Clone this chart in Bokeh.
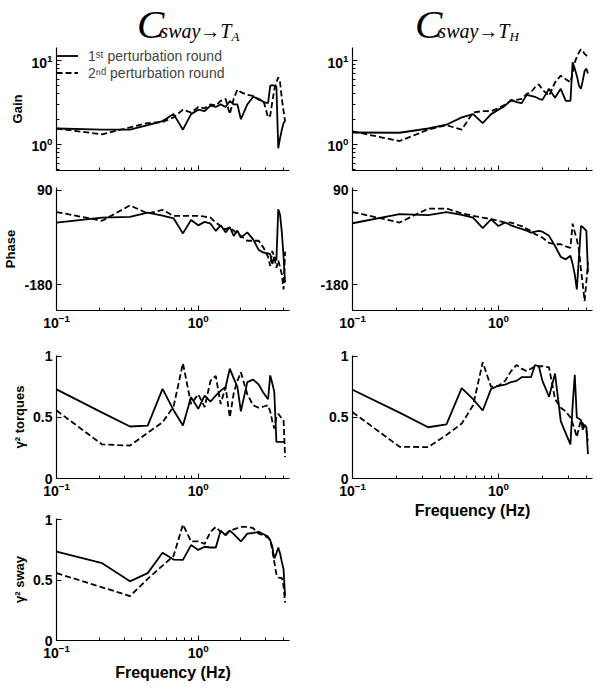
from bokeh.plotting import figure
from bokeh.models import Range1d, FixedTicker, Legend, LegendItem, Div
from bokeh.layouts import column, row
from bokeh.embed import file_html
from bokeh.resources import INLINE

# ---------------- data ----------------
freq = [0.10, 0.21, 0.33, 0.44, 0.56, 0.67, 0.78, 0.89, 1.00, 1.11, 1.22, 1.33, 1.44, 1.56, 1.67, 1.78,
        1.89, 2.00, 2.22, 2.44, 2.67, 2.89, 3.11, 3.22, 3.33, 3.44, 3.56, 3.67, 3.78, 3.89, 4.00, 4.10]

gain_ta_1 = [1.55, 1.50, 1.50, 1.70, 1.90, 2.30, 1.50, 2.30, 2.60, 2.50, 2.90, 2.80, 3.00, 2.80, 3.30, 3.00,
             3.00, 2.00, 3.00, 3.70, 3.50, 3.20, 3.10, 5.00, 5.10, 5.00, 4.90, 0.90, 1.20, 1.50, 1.80, 1.90]
gain_ta_2 = [1.55, 1.32, 1.60, 1.80, 1.85, 2.10, 2.60, 2.40, 2.80, 2.70, 3.00, 2.90, 3.30, 3.50, 2.30, 3.50,
             4.50, 4.20, 3.90, 3.80, 3.40, 3.30, 2.10, 2.20, 3.20, 4.50, 5.50, 6.30, 5.50, 3.50, 2.50, 1.90]
gain_th_1 = [1.39, 1.38, 1.55, 1.72, 2.10, 2.30, 1.80, 2.30, 2.60, 2.90, 3.40, 3.20, 3.10, 3.90, 3.80, 3.70,
             3.50, 3.40, 4.60, 3.60, 4.60, 3.30, 3.30, 9.50, 8.00, 6.60, 5.00, 4.60, 5.80, 7.50, 8.00, 7.00]
gain_th_2 = [1.43, 1.10, 1.50, 1.70, 1.50, 2.40, 2.50, 2.50, 2.70, 3.00, 3.30, 3.40, 3.50, 4.00, 4.20, 4.80,
             5.20, 4.50, 3.80, 5.50, 6.60, 6.00, 5.50, 7.00, 9.50, 11.0, 12.5, 13.6, 13.0, 12.0, 11.5, 11.0]

phase_ta_1 = [-2, 12, 14, 26, 18, 10, -33, 5, -10, 0, -5, -26, -10, -30, -15, -40,
              -25, -45, -30, -50, -80, -88, -90, -92, -120, -100, -110, 36, 20, -30, -100, -173]
phase_ta_2 = [28, 3, 47, 24, 34, 17, 17, 17, 17, 15, 12, -2, -12, -21, -16, -25,
              -35, -40, -54, -54, -54, -74, -100, -126, -83, -100, -131, -110, -130, -150, -193, -85]
phase_th_1 = [-4, 22, 19, 28, 20, 12, -18, 7, -12, -2, -10, -16, -20, -25, -31, -28,
              -26, -28, -40, -69, -100, -107, -97, -120, -150, -193, -100, -12, -15, -20, -26, -145]
phase_th_2 = [28, -2, 38, 38, 24, 17, 12, 8, 3, -2, -2, -8, -12, -20, -26, -35,
              -40, -45, -60, -64, -64, -70, -74, -5, -30, -50, -80, -136, -180, -226, -170, -116]

torque_ta_1 = [0.73, 0.54, 0.426, 0.434, 0.735, 0.56, 0.434, 0.667, 0.571, 0.68, 0.63, 0.68, 0.72, 0.75, 0.90, 0.82,
               0.75, 0.55, 0.79, 0.81, 0.77, 0.70, 0.65, 0.845, 0.78, 0.71, 0.30, 0.30, 0.30, 0.30, 0.30, 0.30]
torque_ta_2 = [0.557, 0.279, 0.27, 0.375, 0.46, 0.59, 0.945, 0.61, 0.69, 0.585, 0.80, 0.84, 0.61, 0.75, 0.50, 0.70,
               0.80, 0.87, 0.69, 0.60, 0.58, 0.59, 0.60, 0.55, 0.47, 0.41, 0.50, 0.53, 0.51, 0.49, 0.48, 0.175]
torque_th_1 = [0.727, 0.54, 0.42, 0.443, 0.74, 0.65, 0.557, 0.735, 0.76, 0.77, 0.79, 0.80, 0.83, 0.83, 0.83, 0.93,
               0.92, 0.80, 0.67, 0.86, 0.47, 0.37, 0.28, 0.60, 0.85, 0.50, 0.49, 0.48, 0.40, 0.44, 0.42, 0.20]
torque_th_2 = [0.544, 0.26, 0.257, 0.357, 0.45, 0.60, 0.953, 0.75, 0.76, 0.80, 0.88, 0.93, 0.90, 0.88, 0.90, 0.92,
               0.92, 0.92, 0.91, 0.65, 0.58, 0.55, 0.50, 0.45, 0.40, 0.34, 0.42, 0.475, 0.45, 0.42, 0.40, 0.31]

sway_ta_1 = [0.735, 0.64, 0.49, 0.558, 0.727, 0.67, 0.667, 0.79, 0.75, 0.776, 0.77, 0.77, 0.91, 0.87, 0.91, 0.88,
             0.85, 0.82, 0.885, 0.89, 0.90, 0.88, 0.86, 0.83, 0.78, 0.68, 0.72, 0.77, 0.72, 0.65, 0.59, 0.37]
sway_ta_2 = [0.558, 0.44, 0.368, 0.51, 0.62, 0.70, 0.96, 0.82, 0.82, 0.80, 0.90, 0.94, 0.90, 0.88, 0.91, 0.92,
             0.93, 0.94, 0.94, 0.93, 0.885, 0.87, 0.85, 0.83, 0.75, 0.65, 0.55, 0.52, 0.518, 0.518, 0.45, 0.313]

x_major = [0.1, 1.0]
x_minor = [0.2, 0.3, 0.4, 0.5, 0.6, 0.7, 0.8, 0.9, 2.0, 3.0, 4.0]
gain_major = [1.0, 10.0]
gain_minor = [0.5, 0.6, 0.7, 0.8, 0.9, 2, 3, 4, 5, 6, 7, 8, 9]
phase_ticks = [-180, 90]
coh_ticks = [0, 0.5, 1]

legend_labels = ["1\u02e2\u1d57 perturbation round", "2\u207f\u1d48 perturbation round"]

# ---------------- styling ----------------
FONT = "Liberation Sans"
X_RANGE = (0.1, 4.405)
W = 292
FRAME_W = 240
SOLID_W = 1.8
DASH = "6 3"


def make_panel(height, left, right, top, bottom, y_range, y_log, yticks, yminor, ylabel,
               xlabels=True, xlabel=None, y_overrides=None):
    p = figure(width=W, height=height, x_axis_type="log",
               y_axis_type="log" if y_log else "linear",
               x_range=Range1d(*X_RANGE), y_range=Range1d(*y_range),
               output_backend="svg", toolbar_location=None, title=None,
               min_border_left=left, min_border_right=right,
               min_border_top=top, min_border_bottom=bottom)
    p.outline_line_color = None
    p.grid.visible = False
    p.background_fill_color = "white"
    p.border_fill_color = "white"
    for ax in (p.xaxis[0], p.yaxis[0]):
        ax.axis_line_color = "black"
        ax.axis_line_width = 1.2
        ax.major_tick_in = 5
        ax.major_tick_out = 0
        ax.minor_tick_in = 3
        ax.minor_tick_out = 0
        ax.major_tick_line_color = "black"
        ax.minor_tick_line_color = "black"
        ax.major_label_text_font = FONT
        ax.major_label_text_font_style = "bold"
        ax.major_label_text_font_size = "14px"
        ax.major_label_text_color = "black"
        ax.axis_label_text_font = FONT
        ax.axis_label_text_font_style = "bold"
        ax.axis_label_text_color = "black"
        ax.axis_label_text_font_size = "13px"
    p.xaxis.ticker = FixedTicker(ticks=x_major, minor_ticks=x_minor)
    p.xaxis.major_label_standoff = 3
    if not xlabels:
        p.xaxis.major_label_text_font_size = "2px"
        p.xaxis.major_label_text_alpha = 0
        p.xaxis.major_label_standoff = 0
    if xlabel:
        p.xaxis.axis_label = xlabel
        p.xaxis.axis_label_text_font_size = "16px"
        p.xaxis.axis_label_standoff = 3
    p.yaxis.ticker = FixedTicker(ticks=yticks, minor_ticks=yminor)
    p.yaxis.major_label_standoff = 4
    if y_overrides:
        p.yaxis.major_label_overrides = y_overrides
    if ylabel:
        p.yaxis.axis_label = ylabel
        p.yaxis.axis_label_standoff = 3
    return p


def add_lines(p, y1, y2):
    r1 = p.line(freq, y1, line_color="black", line_width=SOLID_W)
    r2 = p.line(freq, y2, line_color="black", line_width=SOLID_W, line_dash=DASH)
    return r1, r2


def title_div(left_px, sub):
    html = (
        '<div style="position:relative;width:%dpx;height:34px;">'
        '<div style="position:absolute;left:%dpx;top:4px;line-height:30px;white-space:nowrap;'
        'font-family:\'Liberation Serif\';font-style:italic;color:black;">'
        '<span style="font-size:41px;">C</span>'
        '<span style="font-size:20px;margin-left:-4px;">sway&#8594;T</span>'
        '<span style="font-size:13px;position:relative;top:3px;">%s</span>'
        '</div></div>' % (W, left_px, sub)
    )
    return Div(text=html, width=W, height=34)


coh_over = {0: "0", 0.5: "0.5", 1: "1"}
ph_over = {-180: "-180", 90: "90"}

LB, RB = 49, 50

# ---------------- left column (C sway -> T_A) ----------------
tL = title_div(132, "A")

gL = make_panel(135, LB, W - LB - FRAME_W, 3, 9, (0.49, 14.29), True, gain_major, gain_minor, "Gain",
                xlabels=False)
r1, r2 = add_lines(gL, gain_ta_1, gain_ta_2)
leg = Legend(items=[LegendItem(label=legend_labels[0], renderers=[r1]),
                    LegendItem(label=legend_labels[1], renderers=[r2])],
             location="top_left", border_line_color=None, background_fill_alpha=0,
             margin=0, padding=6, spacing=0, label_text_font=FONT, label_text_font_size="14px",
             label_height=17, glyph_height=17, glyph_width=22, label_standoff=10)
gL.add_layout(leg)

pL = make_panel(161, LB, W - LB - FRAME_W, 8, 30, (-253, 98), False, phase_ticks, [], "Phase",
                y_overrides=ph_over)
add_lines(pL, phase_ta_1, phase_ta_2)

cL = make_panel(165, LB, W - LB - FRAME_W, 15, 27, (0, 1.008), False, coh_ticks, [], "\u03b3\u00b2 torques",
                y_overrides=coh_over)
add_lines(cL, torque_ta_1, torque_ta_2)

sL = make_panel(179, LB, W - LB - FRAME_W, 13, 44, (0, 1.01), False, coh_ticks, [], "\u03b3\u00b2 sway",
                xlabel="Frequency (Hz)", y_overrides=coh_over)
add_lines(sL, sway_ta_1, sway_ta_2)

# ---------------- right column (C sway -> T_H) ----------------
tR = title_div(108, "H")

gR = make_panel(135, RB, W - RB - FRAME_W, 3, 9, (0.49, 14.29), True, gain_major, gain_minor, None,
                xlabels=False)
add_lines(gR, gain_th_1, gain_th_2)

pR = make_panel(161, RB, W - RB - FRAME_W, 8, 30, (-253, 98), False, phase_ticks, [], None,
                y_overrides=ph_over)
add_lines(pR, phase_th_1, phase_th_2)

cR = make_panel(195, RB, W - RB - FRAME_W, 15, 57, (0, 1.008), False, coh_ticks, [], None,
                xlabel="Frequency (Hz)", y_overrides=coh_over)
add_lines(cR, torque_th_1, torque_th_2)

layout = row(column(tL, gL, pL, cL, sL), column(tR, gR, pR, cR))

open("out.html", "w").write(file_html(layout, INLINE))
